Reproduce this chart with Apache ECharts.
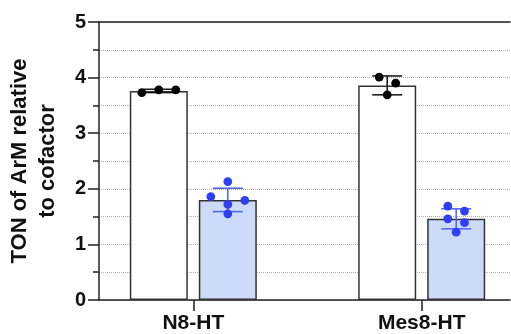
<!DOCTYPE html>
<html>
<head>
<meta charset="utf-8">
<script src="https://cdn.jsdelivr.net/npm/echarts@6/dist/echarts.min.js"></script>
<style>html,body{margin:0;padding:0;background:#fff;}#c{width:511px;height:334px;}</style>
</head>
<body>
<div id="c"></div>
<script>
// ---- data ----
const categories = ['N8-HT', 'Mes8-HT'];
const whiteMean = [3.76, 3.86];
const whiteSD = [0.03, 0.17];
const blueMean = [1.80, 1.46];
const blueSD = [0.21, 0.18];
const whitePoints = [[3.73, 3.78, 3.78], [4.01, 3.90, 3.69]];
const bluePoints = [[2.13, 1.86, 1.79, 1.72, 1.55], [1.69, 1.60, 1.46, 1.39, 1.22]];
const yTickValues = [0, 1, 2, 3, 4, 5];

// ---- layout (pixels) ----
const BAR_W = 58, BAR_GAP = 11;
const OFF = (BAR_W + BAR_GAP) / 2;
const CAP = 30;
const whiteJitter = [[-17, 0, 17], [-8, 8.5, 0]];
const blueJitter = [[0, -17, 17, 0, 0], [-8.4, 8.3, -8.4, 8.3, 0]];

const FONT = '"Liberation Sans", Arial, Helvetica, sans-serif';
const AXIS_COLOR = '#222';

function errData(means, sds) {
  return means.map((m, i) => [i, m, sds[i]]);
}
function pointData(points) {
  const out = [];
  points.forEach((arr, g) => arr.forEach((v, k) => out.push([g, v, k])));
  return out;
}
function errRender(offset, color) {
  return function (params, api) {
    const g = api.value(0), m = api.value(1), s = api.value(2);
    const top = api.coord([g, m + s]);
    const bot = api.coord([g, m - s]);
    const x = top[0] + offset;
    const st = { stroke: color, lineWidth: 1.5 };
    return {
      type: 'group',
      children: [
        { type: 'line', shape: { x1: x, y1: top[1], x2: x, y2: bot[1] }, style: st },
        { type: 'line', shape: { x1: x - CAP / 2, y1: top[1], x2: x + CAP / 2, y2: top[1] }, style: st },
        { type: 'line', shape: { x1: x - CAP / 2, y1: bot[1], x2: x + CAP / 2, y2: bot[1] }, style: st }
      ]
    };
  };
}
function dotRender(offset, jitter, color) {
  return function (params, api) {
    const g = api.value(0), v = api.value(1), k = api.value(2);
    const p = api.coord([g, v]);
    return {
      type: 'circle',
      shape: { cx: p[0] + offset + jitter[g][k], cy: p[1], r: 4.4 },
      style: { fill: color }
    };
  };
}

const chart = echarts.init(document.getElementById('c'), null, { renderer: 'canvas' });
chart.setOption({
  animation: false,
  backgroundColor: '#fff',
  textStyle: { fontFamily: FONT },
  grid: { left: 99, right: 1, top: 22, bottom: 34, containLabel: false, outerBoundsMode: 'none' },
  xAxis: [{
    type: 'value',
    min: -0.4129,
    max: 1.3866,
    axisLine: { show: true, onZero: false, lineStyle: { color: AXIS_COLOR, width: 1.5 } },
    axisTick: { show: true, customValues: [0, 1], length: 11, lineStyle: { color: AXIS_COLOR, width: 1.5 } },
    axisLabel: {
      customValues: [0, 1],
      formatter: v => categories[Math.round(v)] || '',
      fontSize: 21, fontWeight: 'bold', color: '#111', fontFamily: FONT, margin: 13
    },
    splitLine: { show: false }
  }, {
    type: 'value',
    position: 'top',
    min: -0.4129,
    max: 1.3866,
    axisLine: { show: true, onZero: false, lineStyle: { color: AXIS_COLOR, width: 1.5 } },
    axisTick: { show: false },
    axisLabel: { show: false },
    splitLine: { show: false }
  }],
  yAxis: {
    type: 'value',
    min: yTickValues[0],
    max: yTickValues[yTickValues.length - 1],
    interval: 1,
    name: 'TON of ArM relative\nto cofactor',
    nameLocation: 'middle',
    nameGap: 37,
    nameTextStyle: { fontSize: 22, fontWeight: 'bold', color: '#111', fontFamily: FONT, lineHeight: 28 },
    axisLine: { show: true, onZero: false, lineStyle: { color: AXIS_COLOR, width: 1.5 } },
    axisTick: { show: true, length: 11, lineStyle: { color: AXIS_COLOR, width: 1.5 } },
    minorTick: { show: true, splitNumber: 2, length: 6, lineStyle: { color: AXIS_COLOR, width: 1.5 } },
    axisLabel: { fontSize: 20, fontWeight: 'bold', color: '#111', fontFamily: FONT, margin: 13 },
    splitLine: { show: true, lineStyle: { color: '#b0b0b0', type: 'dotted', width: 1 } },
    minorSplitLine: { show: true, lineStyle: { color: '#b0b0b0', type: 'dotted', width: 1 } }
  },
  series: [
    {
      type: 'bar', name: 'white', barWidth: BAR_W, barGap: (BAR_GAP / BAR_W * 100).toFixed(2) + '%',
      data: whiteMean.map((v, i) => [i, v]),
      itemStyle: { color: '#ffffff', borderColor: '#333', borderWidth: 1.5 },
      z: 2
    },
    {
      type: 'bar', name: 'blue', barWidth: BAR_W,
      data: blueMean.map((v, i) => [i, v]),
      itemStyle: { color: '#cddbfa', borderColor: '#333', borderWidth: 1.5 },
      z: 2
    },
    { type: 'custom', renderItem: errRender(-OFF, '#111'), data: errData(whiteMean, whiteSD), z: 3 },
    { type: 'custom', renderItem: errRender(OFF, '#4a63ee'), data: errData(blueMean, blueSD), z: 3 },
    { type: 'custom', renderItem: dotRender(-OFF, whiteJitter, '#000'), data: pointData(whitePoints), z: 4 },
    { type: 'custom', renderItem: dotRender(OFF, blueJitter, '#2f3ff5'), data: pointData(bluePoints), z: 4 }
  ]
});
</script>
</body>
</html>
